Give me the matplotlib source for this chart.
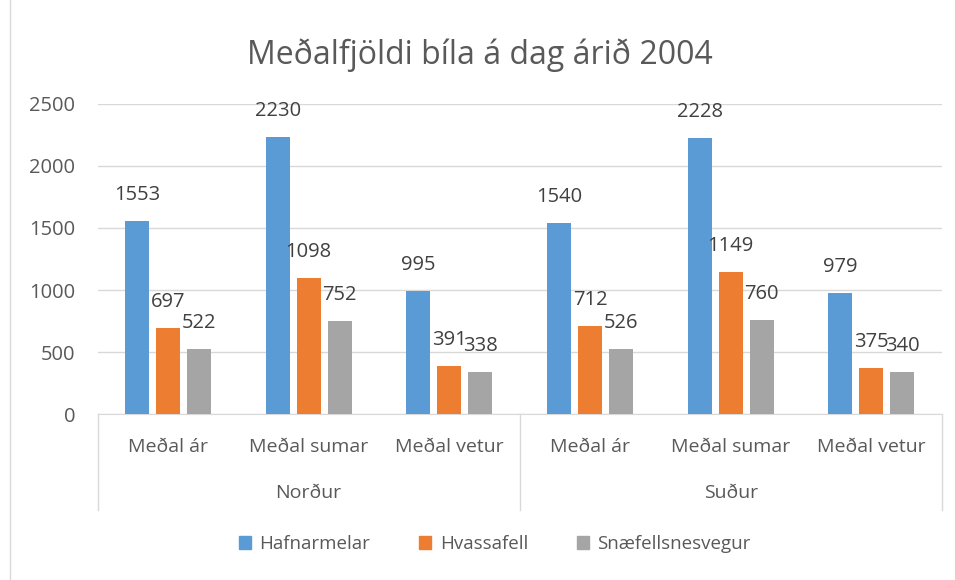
import matplotlib.pyplot as plt
import numpy as np
from matplotlib.lines import Line2D

categories = ["Meðal ár", "Meðal sumar", "Meðal vetur", "Meðal ár", "Meðal sumar", "Meðal vetur"]
groups = ["Norður", "Suður"]
series = ["Hafnarmelar", "Hvassafell", "Snæfellsnesvegur"]
hafnarmelar = [1553, 2230, 995, 1540, 2228, 979]
hvassafell = [697, 1098, 391, 712, 1149, 375]
snaefellsnesvegur = [522, 752, 338, 526, 760, 340]
colors = ["#5B9BD5", "#ED7D31", "#A5A5A5"]

plt.rcParams['font.family'] = ['Open Sans', 'DejaVu Sans']
txt = "#595959"

fig = plt.figure(figsize=(9.55, 5.8), dpi=100)
ax = fig.add_axes([0.1023, 0.2862, 0.8837, 0.5345])

x = np.arange(len(categories))
offsets = [-0.22, 0, 0.22]
for vals, off, col, name in zip([hafnarmelar, hvassafell, snaefellsnesvegur], offsets, colors, series):
    bars = ax.bar(x + off, vals, width=0.17, color=col, label=name, zorder=3)
    for b, v in zip(bars, vals):
        ax.annotate(str(v), (b.get_x() + b.get_width() / 2, v), xytext=(0, 26),
                    textcoords='offset pixels', ha='center', va='center',
                    fontsize=14.5, color="#404040", zorder=4)

ax.set_xlim(-0.5, len(categories) - 0.5)
ax.set_ylim(0, 2500)
ax.set_yticks(range(0, 2501, 500))
ax.yaxis.grid(True, color="#D9D9D9", linewidth=1)
ax.set_axisbelow(True)
for s in ["top", "right", "left"]:
    ax.spines[s].set_visible(False)
ax.spines["bottom"].set_color("#D9D9D9")
ax.tick_params(axis='y', length=0, labelsize=14.5, labelcolor=txt, pad=16)
ax.tick_params(axis='x', length=0, labelsize=14, labelcolor=txt, pad=17)
ax.set_xticks(x)
ax.set_xticklabels(categories)

tr = ax.get_xaxis_transform()
for gx in [-0.5, 2.5, 5.5]:
    ax.plot([gx, gx], [0, -0.31], transform=tr, color="#D9D9D9", lw=1, clip_on=False)
for i, g in enumerate(groups):
    ax.text(1 + 3 * i, -0.255, g, transform=tr, ha='center', va='center', fontsize=14, color=txt)

fig.text(0.503, 0.905, "Meðalfjöldi bíla á dag árið 2004", ha='center', va='center',
         fontsize=23, color=txt)

handles = [plt.Rectangle((0, 0), 1, 1, color=c) for c in colors]
fig.legend(handles, series, loc='center', bbox_to_anchor=(0.518, 0.062), ncol=3,
           frameon=False, fontsize=13.5, handlelength=0.65, handleheight=0.65,
           columnspacing=2.6, handletextpad=0.45, labelcolor=txt)

fig.add_artist(Line2D([10 / 955, 10 / 955], [0, 1], transform=fig.transFigure, color="#D9D9D9", lw=1))

fig.savefig("out.png", dpi=100)
